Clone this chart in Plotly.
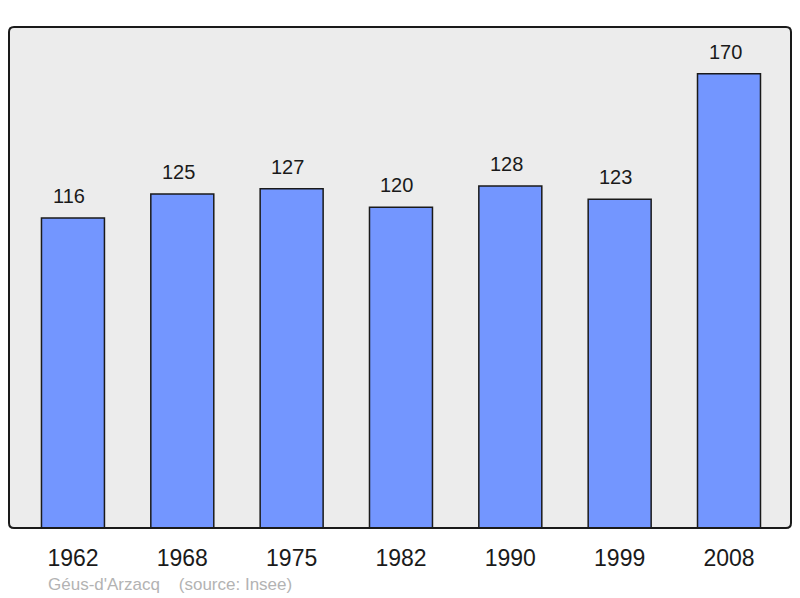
import plotly.graph_objects as go

# population par année
annees = ["1962", "1968", "1975", "1982", "1990", "1999", "2008"]
population = [116, 125, 127, 120, 128, 123, 170]

# la page ajoute 8 px de marge autour du graphique
W, H = 784, 590
L, R, T, B = 1, 1, 19, 70
pw, ph = W - L - R, H - T - B

fig = go.Figure()
fig.add_trace(go.Bar(
    x=list(range(len(annees))), y=population,
    width=0.576,
    marker=dict(color="#7396ff", line=dict(color="#1a1a1a", width=1.5)),
    hoverinfo="skip",
))

# étiquettes au-dessus des barres
for i, v in enumerate(population):
    fig.add_annotation(x=i, y=v, text=str(v), showarrow=False,
                       yanchor="bottom", yshift=9, xshift=-4,
                       font=dict(size=20, color="#1a1a1a"))

# cadre aux coins arrondis
rx, ry = 5 / pw, 5 / ph
path = (f"M {rx},0 L {1-rx},0 Q 1,0 1,{ry} L 1,{1-ry} Q 1,1 {1-rx},1 "
        f"L {rx},1 Q 0,1 0,{1-ry} L 0,{ry} Q 0,0 {rx},0 Z")
fig.add_shape(type="path", xref="paper", yref="paper", path=path,
              line=dict(color="#1a1a1a", width=2), layer="above")

fig.add_annotation(xref="paper", yref="paper", x=(38 - L) / pw, y=-56 / ph,
                   xanchor="left", yanchor="middle", showarrow=False,
                   text="Géus-d'Arzacq&nbsp;&nbsp;&nbsp;&nbsp;(source: Insee)",
                   font=dict(size=17, color="#b3b3b3"))

fig.update_layout(
    width=W, height=H,
    margin=dict(l=L, r=R, t=T, b=B),
    paper_bgcolor="white", plot_bgcolor="#ececec",
    font=dict(family="Liberation Sans, Arial, sans-serif"),
    showlegend=False,
    xaxis=dict(range=[-0.585, 6.567], tickmode="array",
               tickvals=list(range(len(annees))), ticktext=annees,
               showgrid=False, zeroline=False, showline=False,
               ticks="", ticklen=0, ticklabelstandoff=14,
               tickfont=dict(size=23, color="#1a1a1a")),
    yaxis=dict(range=[0, 187.5], showgrid=False, zeroline=False,
               showticklabels=False, showline=False),
)

fig.write_html("out.html")
